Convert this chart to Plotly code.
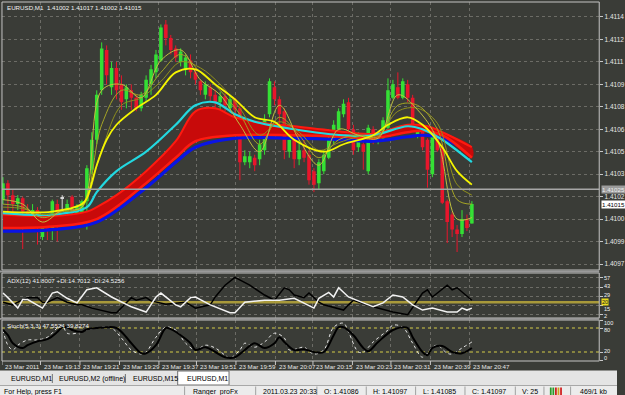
import plotly.graph_objects as go

W, H = 625, 395

# ---------------- data ----------------
OPEN = [1.41018,1.41029,1.41021,1.41015,1.41019,1.41010,1.41006,1.41011,1.40993,1.40999,
        1.40999,1.41015,1.41019,1.41010,1.41020,1.41008,1.41009,1.41017,1.41038,1.41058,
        1.41091,1.41118,1.41093,1.41106,1.41095,1.41085,1.41091,1.41086,1.41079,1.41086,
        1.41095,1.41103,1.41111,1.41135,1.41126,1.41119,1.41110,1.41105,1.41111,1.41103,
        1.41097,1.41088,1.41093,1.41088,1.41083,1.41087,1.41079,1.41085,1.41079,1.41043,
        1.41043,1.41046,1.41045,1.41051,1.41075,1.41093,1.41085,1.41077,1.41050,1.41058,
        1.41045,1.41051,1.41048,1.41037,1.41029,1.41037,1.41046,1.41058,1.41065,1.41075,
        1.41083,1.41065,1.41053,1.41055,1.41037,1.41065,1.41057,1.41059,1.41066,1.41086,
        1.41093,1.41086,1.41095,1.41086,1.41061,1.41067,1.41058,1.41035,1.41065,1.41053,
        1.41017,1.41008,1.40998,1.40995,1.41005,1.41002]
HIGH = [1.41033,1.41031,1.41025,1.41021,1.41020,1.41015,1.41015,1.41013,1.41001,1.41001,
        1.41018,1.41018,1.41021,1.41018,1.41021,1.41015,1.41018,1.41041,1.41063,1.41091,
        1.41123,1.41121,1.41110,1.41110,1.41101,1.41095,1.41095,1.41088,1.41090,1.41101,
        1.41108,1.41118,1.41135,1.41138,1.41128,1.41121,1.41119,1.41115,1.41115,1.41106,
        1.41098,1.41097,1.41095,1.41091,1.41090,1.41089,1.41088,1.41086,1.41081,1.41051,
        1.41050,1.41048,1.41058,1.41075,1.41099,1.41097,1.41087,1.41079,1.41061,1.41061,
        1.41065,1.41065,1.41051,1.41039,1.41045,1.41051,1.41061,1.41071,1.41079,1.41085,
        1.41086,1.41068,1.41063,1.41058,1.41068,1.41067,1.41061,1.41073,1.41099,1.41098,
        1.41103,1.41099,1.41098,1.41088,1.41068,1.41068,1.41059,1.41065,1.41066,1.41055,
        1.41018,1.41010,1.41001,1.41011,1.41008,1.41017]
LOW = [1.41015,1.41003,1.41008,1.41011,1.40985,1.41001,1.41001,1.40988,1.40991,1.40991,
       1.40991,1.40990,1.41011,1.41008,1.41005,1.41006,1.41005,1.40998,1.41035,1.41055,
       1.41088,1.41095,1.41088,1.41085,1.41078,1.41079,1.41078,1.41077,1.41077,1.41083,
       1.41088,1.41099,1.41110,1.41121,1.41115,1.41110,1.41107,1.41101,1.41099,1.41095,
       1.41088,1.41085,1.41083,1.41079,1.41078,1.41077,1.41077,1.41071,1.41031,1.41041,
       1.41039,1.41037,1.41041,1.41048,1.41073,1.41081,1.41068,1.41045,1.41046,1.41039,
       1.41041,1.41043,1.41028,1.41023,1.41025,1.41035,1.41045,1.41055,1.41061,1.41073,
       1.41061,1.41048,1.41050,1.41038,1.41035,1.41055,1.41055,1.41057,1.41065,1.41085,
       1.41085,1.41085,1.41083,1.41066,1.41059,1.41051,1.41026,1.41033,1.41050,1.41015,
       1.40989,1.40993,1.40983,1.40993,1.40997,1.41002]
CLOSE = [1.41029,1.41021,1.41015,1.41019,1.41010,1.41006,1.41011,1.41003,1.40999,1.40997,
         1.41017,1.41008,1.41019,1.41015,1.41013,1.41013,1.41017,1.41039,1.41058,1.41088,
         1.41119,1.41101,1.41106,1.41091,1.41083,1.41093,1.41086,1.41079,1.41088,1.41098,
         1.41105,1.41115,1.41133,1.41126,1.41118,1.41113,1.41117,1.41113,1.41103,1.41098,
         1.41091,1.41095,1.41087,1.41083,1.41087,1.41081,1.41085,1.41078,1.41043,1.41047,
         1.41047,1.41041,1.41055,1.41071,1.41097,1.41085,1.41075,1.41051,1.41058,1.41045,
         1.41051,1.41046,1.41031,1.41028,1.41043,1.41048,1.41058,1.41068,1.41077,1.41082,
         1.41065,1.41051,1.41059,1.41050,1.41066,1.41058,1.41059,1.41071,1.41091,1.41095,
         1.41086,1.41097,1.41086,1.41068,1.41066,1.41053,1.41038,1.41063,1.41051,1.41016,
         1.41003,1.40998,1.40995,1.41005,1.40999,1.41015]

# moving-average ribbon, read at sample bars
BLUE_BARS = [0,10,19,29,35,39,47,59,69,75,82,85,89,95]
BLUE_VALS = [1.40997,1.40998,1.41003,1.41026,1.41043,1.41053,1.41059,1.41059,1.41058,1.41057,1.41060,1.41061,1.41059,1.41049]
REDLO_BARS = [0,10,19,29,35,39,47,59,69,75,82,85,89,95]
REDLO_VALS = [1.40999,1.41000,1.41005,1.41029,1.41046,1.41057,1.41061,1.41061,1.41060,1.41059,1.41063,1.41064,1.41061,1.41046]
REDHI_BARS = [0,10,17,19,23,29,35,39,43,47,53,59,67,75,82,86,89,95]
REDHI_VALS = [1.41008,1.41007,1.41010,1.41013,1.41021,1.41037,1.41057,1.41077,1.41079,1.41073,1.41069,1.41067,1.41064,1.41062,1.41068,1.41067,1.41063,1.41053]
CYAN_BARS = [0,10,17,19,23,29,35,39,43,47,51,59,69,75,82,85,89,95]
CYAN_VALS = [1.41009,1.41008,1.41013,1.41023,1.41037,1.41050,1.41068,1.41081,1.41083,1.41075,1.41070,1.41065,1.41061,1.41061,1.41067,1.41065,1.41058,1.41043]
YEL_BARS = [0,10,16,17,19,21,23,27,31,35,39,43,47,51,55,59,65,69,75,78,82,85,89,92,95]
YEL_VALS = [1.41010,1.41010,1.41015,1.41019,1.41041,1.41058,1.41068,1.41079,1.41088,1.41103,1.41105,1.41095,1.41085,1.41073,1.41070,1.41058,1.41050,1.41055,1.41061,1.41068,1.41073,1.41068,1.41053,1.41037,1.41028]
FAST_BARS = [0,4,8,12,16,20,24,28,32,36,40,44,48,52,56,60,64,68,72,76,80,84,88,92,95]
FAST1_VALS = [1.41018,1.41015,1.41003,1.41011,1.41013,1.41091,1.41095,1.41086,1.41111,1.41118,1.41098,1.41088,1.41068,1.41050,1.41081,1.41058,1.41041,1.41065,1.41061,1.41059,1.41088,1.41078,1.41058,1.41005,1.41006]
FAST2_VALS = [1.41015,1.41013,1.41006,1.41010,1.41013,1.41068,1.41091,1.41088,1.41103,1.41115,1.41103,1.41091,1.41075,1.41055,1.41073,1.41061,1.41046,1.41058,1.41061,1.41060,1.41081,1.41081,1.41065,1.41018,1.41015]
FAST3_VALS = [1.41013,1.41012,1.41008,1.41010,1.41013,1.41051,1.41081,1.41086,1.41097,1.41110,1.41106,1.41095,1.41079,1.41061,1.41070,1.41063,1.41051,1.41056,1.41060,1.41061,1.41077,1.41079,1.41069,1.41028,1.41021]
LEVEL_PRICE = 1.41025
BID_PRICE = 1.41015

PRICE_TICKS = [1.41140,1.41125,1.41110,1.41095,1.41080,1.41065,1.41050,1.41035,1.41020,1.41005,1.40990,1.40975]
PRICE_TICK_TEXT = ["1.4114","1.4112","1.4111","1.4109","1.4108","1.4106","1.4105","1.4103","1.4102","1.4100","1.4099","1.4097"]

# ADX panel lines
ADXW_BARS = [0,1,3,4,5,6,8,10,11,13,14,15,17,19,22,26,29,31,32,35,36,38,39,42,46,47,49,53,56,59,63,64,66,67,68,70,73,75,77,79,81,83,85,87,90,92,93,94,95]
ADXW_VALS = [34,27,11,24,24,20,11,34,36,26,23,19,39,42,28,13,5,28,34,16,13,27,28,16,4,4,20,23,23,26,11,26,35,28,42,28,19,13,19,31,28,16,8,11,5,5,11,8,11]
ADXB_BARS = [0,2,3,5,7,8,9,11,13,15,16,18,22,23,26,27,29,30,33,37,39,42,43,45,47,50,53,55,57,58,59,61,62,64,65,69,70,71,75,79,82,85,86,87,90,91,92,95]
ADXB_VALS = [20,16,20,27,27,20,20,27,20,16,16,11,4,4,27,23,27,22,17,20,11,16,28,46,58,46,31,23,42,39,31,27,34,20,16,8,16,23,13,5,1,34,39,28,46,39,42,23]
ADX_LEVEL = 20
ADX_TICKS = ["57","43","29","15","2"]

# Stochastic panel lines
STM_BARS = [0,1,2,4,5,7,9,11,12,13,14,16,17,19,21,23,25,26,28,29,31,33,34,36,38,39,41,43,45,47,49,51,53,55,56,57,59,61,63,65,67,68,69,71,73,74,76,79,81,82,83,85,86,87,89,91,93,95]
STM_VALS = [75,62,42,30,37,47,52,70,82,82,75,70,77,80,82,80,57,42,17,17,37,80,77,62,42,25,32,20,7,7,25,42,30,42,57,45,25,27,20,20,62,82,82,62,30,22,45,75,82,80,57,20,12,30,35,20,17,30]
STS_BARS = [0,1,2,3,5,7,9,11,12,13,15,17,20,22,24,26,28,29,31,33,35,37,39,41,43,45,46,48,49,51,53,55,57,58,60,61,63,65,67,69,70,72,73,75,78,79,81,83,85,87,88,90,91,93,95]
STS_VALS = [75,37,25,37,50,50,57,80,87,67,67,75,82,80,55,25,15,20,57,82,75,42,25,37,30,12,5,25,42,32,45,67,55,25,30,32,15,25,82,92,70,20,20,45,75,87,82,42,7,32,37,17,15,30,45]
STOCH_LEVELS = [80, 20]
STOCH_TICKS = ["100","80","20","0"]

TIME_LABELS = ["23 Mar 2011","23 Mar 19:13","23 Mar 19:21","23 Mar 19:29","23 Mar 19:37","23 Mar 19:51",
               "23 Mar 19:59","23 Mar 20:07","23 Mar 20:15","23 Mar 20:23","23 Mar 20:31","23 Mar 20:39","23 Mar 20:47"]
TIME_BARS = [-0.2,7.6,15.6,23.6,31.6,39.2,47.2,55.2,62.8,70.8,78.6,86.6,94.6]

MAIN_TITLE = "EURUSD,M1  1.41002 1.41017 1.41002 1.41015"
ADX_TITLE = "ADX(12) 41.8007 +DI:14.7012 -DI:24.5256"
STOCH_TITLE = "Stoch(5,3,3) 47.5524 39.8274"
TABS = ["EURUSD,M1", "EURUSD,M2 (offline)", "EURUSD,M15", "EURUSD,M1"]
STATUS = ["For Help, press F1", "Ranger_proFx", "2011.03.23 20:33", "O: 1.41086", "H: 1.41097",
          "L: 1.41085", "C: 1.41097", "V: 25", "469/1 kb"]

# ---------------- styling helpers ----------------
BG = "#3a3c37"
GRID = "#6c6c66"
FONT = "Liberation Sans, Arial, sans-serif"
GREEN = "#35e035"
RED = "#e8162c"

def py(p):  # pixel row -> paper fraction
    return 1 - p / H

def pxx(p):  # pixel column -> paper fraction
    return p / W

XDOM = [pxx(2), pxx(607)]
XRANGE = [-0.2, 120.8]

fig = go.Figure()

# ---------------- candles ----------------
n = len(CLOSE)
idx = list(range(n))
bases, heights, cols = [], [], []
wick = {GREEN: ([], []), RED: ([], []), "#d8d8d8": ([], [])}
for i in idx:
    o, c = OPEN[i], CLOSE[i]
    col = GREEN if c > o else (RED if c < o else "#d8d8d8")
    bases.append(min(o, c))
    heights.append(max(abs(c - o), 0.000007))
    cols.append(col)
    wx, wy = wick[col]
    wx += [i, i, None]
    wy += [LOW[i], HIGH[i], None]

for col, (wx, wy) in wick.items():
    fig.add_trace(go.Scatter(x=wx, y=wy, mode="lines", line=dict(color=col, width=1),
                             xaxis="x", yaxis="y", hoverinfo="skip", showlegend=False))
fig.add_trace(go.Bar(x=idx, y=heights, base=bases, width=0.72, marker=dict(color=cols, line=dict(width=0)),
                     xaxis="x", yaxis="y", hoverinfo="skip", showlegend=False))

# ---------------- ribbon ----------------
fig.add_trace(go.Scatter(x=BLUE_BARS, y=BLUE_VALS, mode="lines", line=dict(color="#0a14e6", width=3.2, shape="spline"),
                         xaxis="x", yaxis="y", hoverinfo="skip", showlegend=False))
fig.add_trace(go.Scatter(x=REDHI_BARS + REDLO_BARS[::-1], y=REDHI_VALS + REDLO_VALS[::-1], mode="lines",
                         fill="toself", fillcolor="#c80a0a", line=dict(color="#c80a0a", width=0.5, shape="spline"),
                         xaxis="x", yaxis="y", hoverinfo="skip", showlegend=False))
fig.add_trace(go.Scatter(x=REDHI_BARS, y=REDHI_VALS, mode="lines", line=dict(color="#ff1a10", width=2, shape="spline"),
                         xaxis="x", yaxis="y", hoverinfo="skip", showlegend=False))
fig.add_trace(go.Scatter(x=REDLO_BARS, y=REDLO_VALS, mode="lines", line=dict(color="#ff1a10", width=2.5, shape="spline"),
                         xaxis="x", yaxis="y", hoverinfo="skip", showlegend=False))
fig.add_trace(go.Scatter(x=CYAN_BARS, y=CYAN_VALS, mode="lines", line=dict(color="#22d8e0", width=2.2, shape="spline"),
                         xaxis="x", yaxis="y", hoverinfo="skip", showlegend=False))
for vals, col in [(FAST3_VALS, "#8f8f1e"), (FAST2_VALS, "#a5a526"), (FAST1_VALS, "#c0c040")]:
    fig.add_trace(go.Scatter(x=FAST_BARS, y=vals, mode="lines", line=dict(color=col, width=1, shape="spline"),
                             xaxis="x", yaxis="y", hoverinfo="skip", showlegend=False))
fig.add_trace(go.Scatter(x=YEL_BARS, y=YEL_VALS, mode="lines", line=dict(color="#f5f500", width=1.8, shape="spline"),
                         xaxis="x", yaxis="y", hoverinfo="skip", showlegend=False))

# ---------------- ADX ----------------
fig.add_trace(go.Scatter(x=[XRANGE[0], XRANGE[1]], y=[ADX_LEVEL, ADX_LEVEL], mode="lines",
                         line=dict(color="#a8993a", width=2.5), xaxis="x2", yaxis="y2", hoverinfo="skip", showlegend=False))
fig.add_trace(go.Scatter(x=ADXB_BARS, y=ADXB_VALS, mode="lines", line=dict(color="#000000", width=1.5),
                         xaxis="x2", yaxis="y2", hoverinfo="skip", showlegend=False))
fig.add_trace(go.Scatter(x=ADXW_BARS, y=ADXW_VALS, mode="lines", line=dict(color="#f2f2f2", width=1.5),
                         xaxis="x2", yaxis="y2", hoverinfo="skip", showlegend=False))

# ---------------- Stochastic ----------------
for lv in STOCH_LEVELS:
    fig.add_trace(go.Scatter(x=[XRANGE[0], XRANGE[1]], y=[lv, lv], mode="lines",
                             line=dict(color="#d4cc48", width=1, dash="dot"), xaxis="x3", yaxis="y3",
                             hoverinfo="skip", showlegend=False))
fig.add_trace(go.Scatter(x=STS_BARS, y=STS_VALS, mode="lines", line=dict(color="#e6e6e6", width=1, dash="dot", shape="spline"),
                         xaxis="x3", yaxis="y3", hoverinfo="skip", showlegend=False))
fig.add_trace(go.Scatter(x=STM_BARS, y=STM_VALS, mode="lines", line=dict(color="#000000", width=2, shape="spline"),
                         xaxis="x3", yaxis="y3", hoverinfo="skip", showlegend=False))

# ---------------- axes ----------------
xcommon = dict(range=XRANGE, domain=XDOM, tickvals=TIME_BARS, showticklabels=False, ticks="",
               showgrid=True, gridcolor=GRID, griddash="dot", gridwidth=1, zeroline=False, showline=False,
               fixedrange=True)
tickfont = dict(family=FONT, size=6.5, color="#e6e6e6")
layout = dict(
    width=W, height=H, margin=dict(l=0, r=0, t=0, b=0),
    paper_bgcolor=BG, plot_bgcolor=BG, showlegend=False, hovermode=False, barmode="overlay",
    xaxis=dict(anchor="y", **xcommon),
    xaxis2=dict(anchor="y2", **xcommon),
    xaxis3=dict(anchor="y3", **xcommon),
    yaxis=dict(domain=[py(270), py(2)], range=[1.40971, 1.41150], side="right", anchor="x",
               tickvals=PRICE_TICKS, ticktext=PRICE_TICK_TEXT, tickfont=tickfont, ticks="outside",
               ticklen=3, tickcolor="#c8c8c8", showgrid=True, gridcolor=GRID, griddash="dot",
               zeroline=False, showline=False, fixedrange=True),
    yaxis2=dict(domain=[py(318), py(273)], range=[-4.1, 64.6], side="right", anchor="x2",
                tickvals=[57, 43, 29, 15, 2], showticklabels=False, ticks="outside", ticklen=3,
                tickcolor="#c8c8c8", showgrid=True, gridcolor=GRID, griddash="dot", zeroline=False, fixedrange=True),
    yaxis3=dict(domain=[py(361), py(320)], range=[-2.5, 100], side="right", anchor="x3",
                tickvals=[100, 80, 20, 0], showticklabels=False, ticks="outside", ticklen=3,
                tickcolor="#c8c8c8", showgrid=False, zeroline=False, fixedrange=True),
)
fig.update_layout(**layout)

shapes = []
ann = []

# level line in main chart
shapes.append(dict(type="line", xref="paper", yref="y", x0=XDOM[0], x1=XDOM[1], y0=LEVEL_PRICE, y1=LEVEL_PRICE,
                   line=dict(color="#a6a6a6", width=1.5)))

# panel frames and separators
for top, bot in [(2, 270), (273, 318), (320, 361)]:
    shapes.append(dict(type="rect", xref="paper", yref="paper", x0=pxx(2), x1=pxx(607), y0=py(bot), y1=py(top),
                       line=dict(color="#c4c4c4", width=1), fillcolor="rgba(0,0,0,0)"))
for top, bot in [(270.5, 272.5), (318, 319.8)]:
    shapes.append(dict(type="rect", xref="paper", yref="paper", x0=0, x1=pxx(607), y0=py(bot), y1=py(top),
                       line=dict(width=0), fillcolor="#9a9a9a"))

# time-axis tick marks
for b in TIME_BARS:
    shapes.append(dict(type="line", xref="x3", yref="paper", x0=b, x1=b, y0=py(365), y1=py(361),
                       line=dict(color="#c8c8c8", width=1)))

# tabs row and status bar
shapes.append(dict(type="rect", xref="paper", yref="paper", x0=0, x1=1, y0=py(385), y1=py(370.5),
                   line=dict(width=0), fillcolor="#e4e4e4"))
shapes.append(dict(type="rect", xref="paper", yref="paper", x0=pxx(180), x1=pxx(232), y0=py(385), y1=py(371),
                   line=dict(color="#6e6e6e", width=1), fillcolor="#ffffff"))
for xs in [53, 127]:
    shapes.append(dict(type="line", xref="paper", yref="paper", x0=pxx(xs), x1=pxx(xs), y0=py(383), y1=py(374),
                       line=dict(color="#707070", width=1)))
shapes.append(dict(type="rect", xref="paper", yref="paper", x0=0, x1=1, y0=0, y1=py(385.5),
                   line=dict(width=0), fillcolor="#ececec"))
shapes.append(dict(type="line", xref="paper", yref="paper", x0=0, x1=1, y0=py(385.5), y1=py(385.5),
                   line=dict(color="#a8a8a8", width=1)))
for xs in [187, 259, 321, 371, 421, 471, 522, 551, 578]:
    shapes.append(dict(type="line", xref="paper", yref="paper", x0=pxx(xs), x1=pxx(xs), y0=0, y1=py(386.5),
                       line=dict(color="#a0a0a0", width=1)))
for k, c in enumerate(["#2a9a2a", "#2a9a2a", "#d02020", "#d0a020", "#d02020"]):
    shapes.append(dict(type="rect", xref="paper", yref="paper", x0=pxx(557 + 2.6 * k), x1=pxx(558.8 + 2.6 * k),
                       y0=0, y1=py(387.5), line=dict(width=0), fillcolor=c))

txt = dict(family=FONT, size=6.2, color="#f0f0f0")
small = dict(family=FONT, size=5.6, color="#f0f0f0")
ann.append(dict(text=MAIN_TITLE, x=pxx(5), y=py(7.5), xref="paper", yref="paper", xanchor="left",
                yanchor="middle", showarrow=False, font=txt))
ann.append(dict(text=ADX_TITLE, x=pxx(5), y=py(280), xref="paper", yref="paper", xanchor="left",
                yanchor="middle", showarrow=False, font=txt))
ann.append(dict(text=STOCH_TITLE, x=pxx(5), y=py(325.5), xref="paper", yref="paper", xanchor="left",
                yanchor="middle", showarrow=False, font=txt))

for lab, ypx in zip(ADX_TICKS, [277.5, 285.5, 294.5, 309, 315.5]):
    ann.append(dict(text=lab, x=pxx(610), y=py(ypx), xref="paper", yref="paper", xanchor="left",
                    yanchor="middle", showarrow=False, font=small))
ann.append(dict(text="20", x=pxx(608.5), y=py(301.8), xref="paper", yref="paper", xanchor="left",
                yanchor="middle", showarrow=False, bgcolor="#e8dc20", borderpad=0,
                font=dict(family=FONT, size=5.6, color="#202020")))
for lab, ypx in zip(STOCH_TICKS, [322.8, 330, 350.5, 357.5]):
    ann.append(dict(text=lab, x=pxx(610), y=py(ypx), xref="paper", yref="paper", xanchor="left",
                    yanchor="middle", showarrow=False, font=small))

# price labels on the right
ann.append(dict(text="1.41025", x=pxx(608.5), y=LEVEL_PRICE, xref="paper", yref="y", xanchor="left",
                yanchor="middle", showarrow=False, bgcolor="#9c9c9c", borderpad=0,
                font=dict(family=FONT, size=6.2, color="#eeeeee")))
ann.append(dict(text="1.41015", x=pxx(608.5), y=BID_PRICE, xref="paper", yref="y", xanchor="left",
                yanchor="middle", showarrow=False, bgcolor="#ffffff", borderpad=0,
                font=dict(family=FONT, size=6.2, color="#000000")))

for lab, b in zip(TIME_LABELS, TIME_BARS):
    ann.append(dict(text=lab, x=b, y=py(366), xref="x3", yref="paper", xanchor="left", xshift=1.5,
                    yanchor="middle", showarrow=False, font=dict(family=FONT, size=6.2, color="#e6e6e6")))

for lab, xs in zip(TABS, [9, 58, 133, 187]):
    ann.append(dict(text=lab, x=pxx(xs), y=py(378.5), xref="paper", yref="paper", xanchor="left",
                    yanchor="middle", showarrow=False, font=dict(family=FONT, size=7, color="#000000")))
for lab, xs in zip(STATUS, [2, 193, 264, 326, 376, 426, 476, 527, 585]):
    ann.append(dict(text=lab, x=pxx(xs), y=py(391.5), xref="paper", yref="paper", xanchor="left",
                    yanchor="middle", showarrow=False, font=dict(family=FONT, size=7, color="#000000")))

fig.update_layout(shapes=shapes, annotations=ann)
fig.write_html("out.html", config={"displayModeBar": False})
